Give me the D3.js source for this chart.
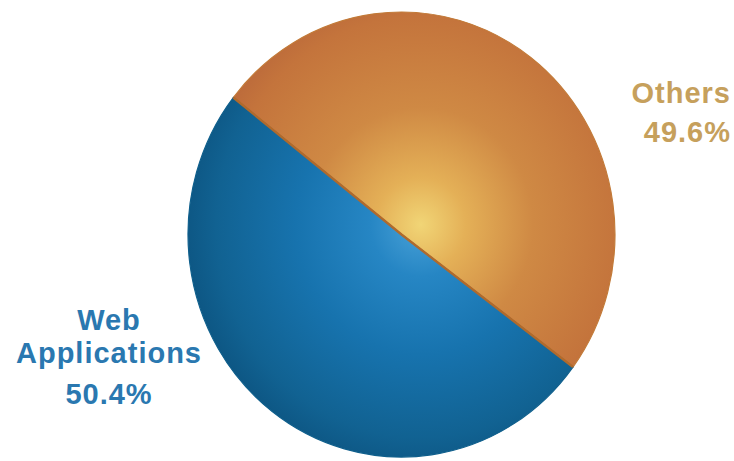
<!DOCTYPE html>
<html>
<head>
<meta charset="utf-8">
<script src="https://cdn.jsdelivr.net/npm/d3@7"></script>
<style>
  html, body { margin: 0; padding: 0; background: #fff; }
  svg { display: block; }
  .lbl { font-family: "Liberation Sans", Arial, sans-serif; font-weight: bold; letter-spacing: 1px; }
</style>
</head>
<body>
<div id="chart"></div>
<script>
// data
const categories = ['Others', 'Web Applications'];
const shares = [49.6, 50.4];
const labelLines = [['Others', '49.6%'], ['Web', 'Applications', '50.4%']];

const width = 734, height = 461;
const cx = 401.5, cy = 234.5;
const ry = 222.5, rx = 213.5;
const startDeg = -52;

const svg = d3.select('#chart').append('svg')
  .attr('width', width)
  .attr('height', height);

const defs = svg.append('defs');

const gradients = {
  'Others': [
    [0, '#f1d576'], [0.18, '#e4b057'], [0.45, '#cf8944'], [0.8, '#c4743c'], [0.95, '#b8663a'], [1, '#a85a34']
  ],
  'Web Applications': [
    [0, '#4aa2d8'], [0.2, '#2686c4'], [0.5, '#1773ae'], [0.82, '#116292'], [0.95, '#0d5683'], [1, '#0a4b70']
  ]
};

categories.forEach((c, i) => {
  const g = defs.append('radialGradient')
    .attr('id', 'grad' + i)
    .attr('gradientUnits', 'userSpaceOnUse')
    .attr('cx', 20).attr('cy', -10)
    .attr('fx', 20).attr('fy', -10)
    .attr('r', 260);
  g.selectAll('stop')
    .data(gradients[c])
    .join('stop')
    .attr('offset', d => d[0])
    .attr('stop-color', d => d[1]);
});

const pie = d3.pie()
  .sort(null)
  .startAngle(startDeg * Math.PI / 180)
  .endAngle(startDeg * Math.PI / 180 + 2 * Math.PI);

const arc = d3.arc().innerRadius(0).outerRadius(ry);

const pieG = svg.append('g')
  .attr('transform', `translate(${cx},${cy}) scale(${rx / ry},1)`);

const arcs = pie(shares);

pieG.selectAll('path.slice')
  .data(arcs)
  .join('path')
  .attr('class', 'slice')
  .attr('d', arc)
  .attr('fill', (d, i) => `url(#grad${i})`)
  .attr('stroke', (d, i) => i === 0 ? '#c27a38' : '#0f5f8c')
  .attr('stroke-width', 1.2);

// divider line between slices
const a0 = arcs[0].startAngle, a1 = arcs[0].endAngle;
pieG.append('path')
  .attr('d', `M${ry * Math.sin(a0)},${-ry * Math.cos(a0)}L0,0L${ry * Math.sin(a1)},${-ry * Math.cos(a1)}`)
  .attr('fill', 'none')
  .attr('stroke', '#b06a2c')
  .attr('stroke-width', 2.4);

// labels
const others = svg.append('text')
  .attr('class', 'lbl')
  .attr('fill', '#c6a05c')
  .attr('text-anchor', 'end')
  .style('font-size', '29px');
others.selectAll('tspan')
  .data(labelLines[0])
  .join('tspan')
  .attr('x', 731)
  .attr('y', (d, i) => [103, 142][i])
  .text(d => d);

const web = svg.append('text')
  .attr('class', 'lbl')
  .attr('fill', '#2a78b0')
  .attr('text-anchor', 'middle')
  .style('font-size', '29px');
web.selectAll('tspan')
  .data(labelLines[1])
  .join('tspan')
  .attr('x', 109)
  .attr('y', (d, i) => [330, 363, 404][i])
  .text(d => d);
</script>
</body>
</html>
